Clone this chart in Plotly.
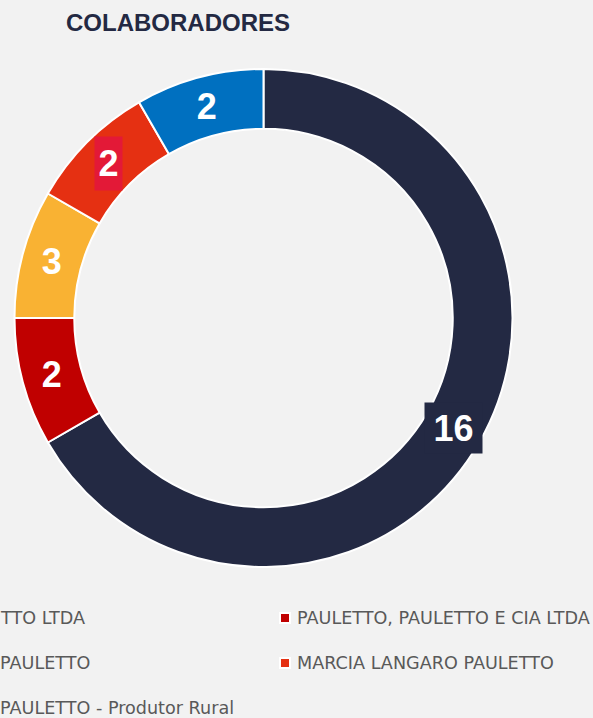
import math
import plotly.graph_objects as go

# ---- data ----
categories = [
    "TTO LTDA",
    "PAULETTO, PAULETTO E CIA LTDA",
    "PAULETTO",
    "MARCIA LANGARO PAULETTO",
    "PAULETTO - Produtor Rural",
]
slice_sizes = [16, 2, 2, 2, 2]             # angular sizes as drawn
shown_labels = ["16", "2", "3", "2", "2"]  # data labels as printed
colors = ["#232943", "#C00000", "#F9B233", "#E53012", "#0070C0"]
label_box_colors = ["#232943", None, None, "#E31937", None]
title_text = "COLABORADORES"

W, H = 593, 718
BG = "#F2F2F2"
HOLE = 0.76

def px_x(x):
    return x / W

def px_y(y):
    return 1 - y / H

cx, cy, R = 263.5, 318.0, 249.0
label_font = dict(family="Liberation Sans", size=36, color="white", weight="bold")

# pie text for the plain labels; boxed labels are drawn as annotations
pie_text = [t if b is None else "" for t, b in zip(shown_labels, label_box_colors)]

fig = go.Figure()
fig.add_trace(go.Pie(
    labels=categories,
    values=slice_sizes,
    text=pie_text,
    texttemplate="%{text}",
    textinfo="text",
    textposition="inside",
    insidetextorientation="horizontal",
    insidetextfont=label_font,
    sort=False,
    direction="clockwise",
    rotation=0,
    hole=HOLE,
    marker=dict(colors=colors, line=dict(color="white", width=2)),
    domain=dict(x=[px_x(cx - R), px_x(cx + R)], y=[px_y(cy + R), px_y(cy - R)]),
    showlegend=False,
    hoverinfo="label+value",
))

annotations = []

# boxed data labels placed at the middle of their ring segment
total = sum(slice_sizes)
r_mid = R * (1 + HOLE) / 2
box_sizes = {0: (57, 50), 3: (27, 53)}
cum = 0
for i, (v, t, bc) in enumerate(zip(slice_sizes, shown_labels, label_box_colors)):
    theta = 2 * math.pi * (cum + v / 2) / total
    cum += v
    if bc is None:
        continue
    bw, bh = box_sizes[i]
    annotations.append(dict(
        x=px_x(cx + r_mid * math.sin(theta)), y=px_y(cy - r_mid * math.cos(theta)),
        xref="paper", yref="paper", text=t, showarrow=False,
        xanchor="center", yanchor="middle", width=bw, height=bh, borderpad=0,
        bgcolor=bc, font=label_font,
    ))

# legend built as two columns (left column partly outside the visible area)
col_step = 297
row_y = [618, 663, 708]
mark_x_right = 285
text_x_right = 295
for i, (name, col) in enumerate(zip(categories, colors)):
    row, c = divmod(i, 2)
    shift = (c - 1) * col_step
    y = px_y(row_y[row])
    annotations.append(dict(
        x=px_x(mark_x_right + shift), y=y, xref="paper", yref="paper",
        text=" ", showarrow=False, width=8, height=8, borderpad=0,
        bgcolor=col, bordercolor="white", borderwidth=2,
        xanchor="center", yanchor="middle",
    ))
    annotations.append(dict(
        x=px_x(text_x_right + shift), y=y, xref="paper", yref="paper",
        text=name, showarrow=False, xanchor="left", yanchor="middle",
        font=dict(family="DejaVu Sans", size=17.6, color="#595959"),
    ))

fig.update_layout(
    width=W, height=H,
    margin=dict(l=0, r=0, t=0, b=0, autoexpand=False),
    paper_bgcolor=BG, plot_bgcolor=BG,
    title=dict(
        text=title_text, x=px_x(66), xanchor="left", xref="paper",
        y=px_y(23), yanchor="middle", yref="container",
        font=dict(family="Liberation Sans", size=24, color="#232943", weight="bold"),
    ),
    annotations=annotations,
    showlegend=False,
)

fig.write_html(
    "out.html",
    config={"displayModeBar": False},
    post_script="document.body.style.margin='0';document.body.style.overflow='hidden';",
)
